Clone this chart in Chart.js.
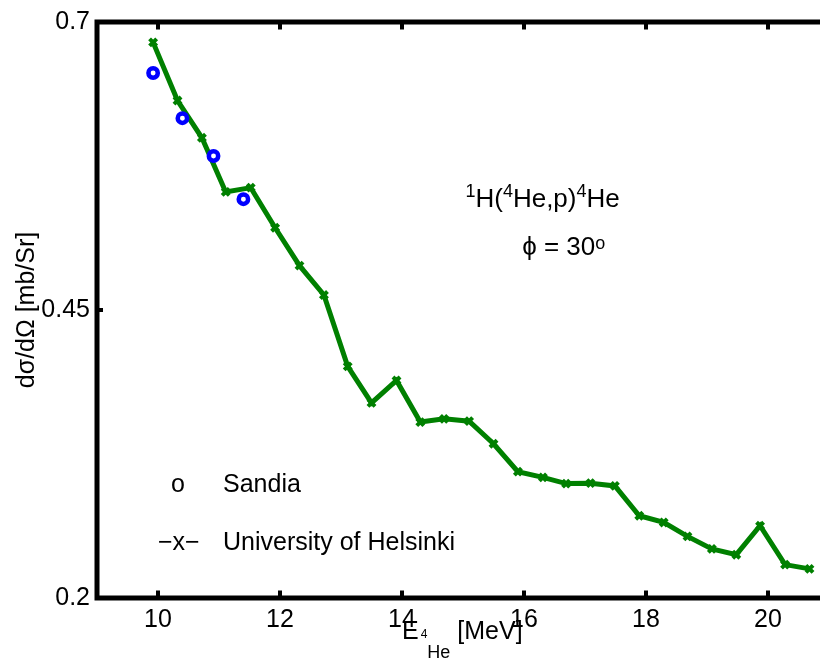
<!DOCTYPE html>
<html>
<head>
<meta charset="utf-8">
<title>1H(4He,p)4He cross section</title>
<script src="https://cdn.jsdelivr.net/npm/chart.js@4.4.1/dist/chart.umd.min.js"></script>
<style>
  html, body { margin: 0; padding: 0; background: #fff; overflow: hidden; }
  #wrap { width: 840px; height: 660px; }
</style>
</head>
<body>
<div id="wrap"><canvas id="xs" width="840" height="660"></canvas></div>
<script>
  /* ---------- data ---------- */
  // University of Helsinki, -x- line
  const HELSINKI_E = [9.92, 10.32, 10.72, 11.11, 11.52, 11.92, 12.32, 12.72, 13.11, 13.50,
                      13.91, 14.30, 14.69, 15.10, 15.50, 15.90, 16.31, 16.69, 17.09, 17.49,
                      17.89, 18.29, 18.68, 19.08, 19.48, 19.87, 20.28, 20.68];
  const HELSINKI_XS = [0.6823, 0.6318, 0.5995, 0.5525, 0.5562, 0.5214, 0.4885, 0.4630, 0.4011, 0.3694,
                       0.3888, 0.3527, 0.3555, 0.3535, 0.3339, 0.3097, 0.3047, 0.2993, 0.2997, 0.2973,
                       0.2714, 0.2656, 0.2535, 0.2426, 0.2376, 0.2627, 0.2290, 0.2253];
  // Sandia, open circles
  const SANDIA_E = [9.92, 10.40, 10.91, 11.40];
  const SANDIA_XS = [0.6557, 0.6165, 0.5837, 0.5462];

  const X_TICKS = [10, 12, 14, 16, 18, 20];
  const Y_TICKS = [0.2, 0.45, 0.7];

  const GREEN = "#008000";
  const BLUE = "#0000ff";
  const FONT = '"Liberation Sans", Arial, Helvetica, sans-serif';

  function pts(xs, ys) {
    return xs.map((x, i) => ({ x: x, y: ys[i] }));
  }

  // draw a run of text pieces: [text, size, dy] left to right from (x, y)
  function drawRich(ctx, x, y, parts) {
    ctx.textAlign = "left";
    ctx.textBaseline = "alphabetic";
    parts.forEach(([t, size, dy]) => {
      ctx.font = size + "px " + FONT;
      ctx.fillText(t, x, y + (dy || 0));
      x += ctx.measureText(t).width;
    });
    return x;
  }

  /* ---------- frame, inward ticks, titles and text labels ---------- */
  const decor = {
    id: "decor",
    afterDraw(chart) {
      const { ctx, chartArea: a, scales } = chart;
      const xs = scales.x, ys = scales.y;
      ctx.save();
      ctx.fillStyle = "#000";
      ctx.strokeStyle = "#000";

      // box
      ctx.lineWidth = 5;
      ctx.lineCap = "square";
      ctx.strokeRect(a.left, a.top, a.right - a.left, a.bottom - a.top);

      // tick marks pointing inside
      ctx.lineWidth = 4;
      ctx.lineCap = "butt";
      X_TICKS.forEach((v) => {
        const px = xs.getPixelForValue(v);
        ctx.beginPath();
        ctx.moveTo(px, a.top); ctx.lineTo(px, a.top + 7.5);
        ctx.moveTo(px, a.bottom); ctx.lineTo(px, a.bottom - 7.5);
        ctx.stroke();
      });
      Y_TICKS.forEach((v) => {
        const py = ys.getPixelForValue(v);
        ctx.beginPath();
        ctx.moveTo(a.left, py); ctx.lineTo(a.left + 6, py);
        ctx.moveTo(a.right, py); ctx.lineTo(a.right - 6, py);
        ctx.stroke();
      });

      // x axis title: E_{^4He} [MeV]
      const cx = (a.left + a.right) / 2;
      const by = 639;
      let x0 = cx - 61;
      x0 = drawRich(ctx, x0, by, [["E", 25, 0]]);
      x0 = drawRich(ctx, x0 + 2, by, [["4", 12, -1]]);
      x0 = drawRich(ctx, x0, by, [["He", 18, 19]]);
      drawRich(ctx, x0, by, [[" [MeV]", 25, 0]]);

      // y axis title
      ctx.save();
      ctx.translate(34, (a.top + a.bottom) / 2);
      ctx.rotate(-Math.PI / 2);
      ctx.font = "25px " + FONT;
      ctx.textAlign = "center";
      ctx.textBaseline = "alphabetic";
      ctx.fillText("dσ/dΩ [mb/Sr]", 0, 0);
      ctx.restore();

      // reaction label
      let rx = xs.getPixelForValue(15.04);
      const ry = ys.getPixelForValue(0.5395);
      drawRich(ctx, rx, ry, [
        ["1", 18, -10], ["H(", 26, 0], ["4", 18, -10], ["He,p)", 26, 0],
        ["4", 18, -10], ["He", 26, 0],
      ]);
      rx = xs.getPixelForValue(15.97);
      drawRich(ctx, rx, ys.getPixelForValue(0.498), [["ϕ = 30", 26, 0], ["o", 18, -6]]);

      // legend text
      ctx.font = "25px " + FONT;
      ctx.textAlign = "left";
      ctx.textBaseline = "alphabetic";
      ctx.fillText("o", 171, 492);
      ctx.fillText("Sandia", 223, 492);
      ctx.fillText("−x−", 158, 550);
      ctx.fillText("University of Helsinki", 223, 550);

      ctx.restore();
    },
  };

  const tickFont = { family: FONT, size: 25 };

  new Chart(document.getElementById("xs"), {
    type: "scatter",
    data: {
      datasets: [
        {
          label: "Sandia",
          data: pts(SANDIA_E, SANDIA_XS),
          showLine: false,
          pointStyle: "circle",
          pointRadius: 4.7,
          pointBorderWidth: 4.5,
          pointBorderColor: BLUE,
          pointBackgroundColor: "#fff",
          order: 0,
        },
        {
          label: "University of Helsinki",
          data: pts(HELSINKI_E, HELSINKI_XS),
          showLine: true,
          borderColor: GREEN,
          borderWidth: 5,
          tension: 0,
          pointStyle: "crossRot",
          pointRadius: 5,
          pointBorderWidth: 4,
          pointBorderColor: GREEN,
          pointBackgroundColor: GREEN,
          order: 1,
        },
      ],
    },
    options: {
      responsive: false,
      animation: false,
      events: [],
      layout: { padding: { top: 20, right: 11, left: 0, bottom: 0 } },
      plugins: { legend: { display: false }, tooltip: { enabled: false } },
      scales: {
        x: {
          type: "linear",
          min: 9,
          max: 21,
          grid: { display: false, drawTicks: false },
          border: { display: false },
          afterBuildTicks: (s) => { s.ticks = X_TICKS.map((v) => ({ value: v })); },
          afterFit: (s) => { s.height = 62; },
          ticks: {
            font: tickFont, color: "#000", padding: 7,
            maxRotation: 0, autoSkip: false,
            callback: (v) => String(v),
          },
        },
        y: {
          type: "linear",
          min: 0.2,
          max: 0.7,
          grid: { display: false, drawTicks: false },
          border: { display: false },
          afterBuildTicks: (s) => { s.ticks = Y_TICKS.map((v) => ({ value: v })); },
          afterFit: (s) => { s.width = 97; },
          ticks: {
            font: tickFont, color: "#000", padding: 7,
            autoSkip: false,
            callback: (v) => String(v),
          },
        },
      },
    },
    plugins: [decor],
  });
</script>
</body>
</html>
